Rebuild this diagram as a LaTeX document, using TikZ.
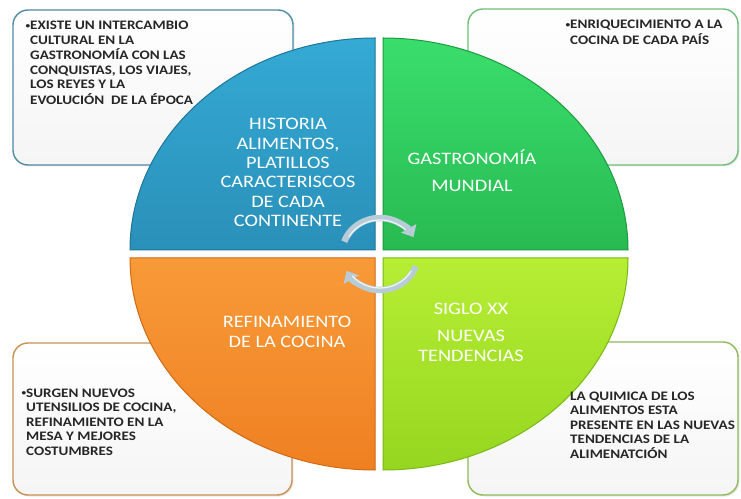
\documentclass[tikz,border=0pt]{standalone}
\usepackage{fontspec}
\setmainfont{Carlito}[FakeStretch=1.16]
\usetikzlibrary{arrows.meta,shadows}
\definecolor{qblueT}{HTML}{34AAD4}
\definecolor{qblueB}{HTML}{2A90B9}
\definecolor{qblueE}{HTML}{1F7598}
\definecolor{qgreenT}{HTML}{3ADE6C}
\definecolor{qgreenB}{HTML}{28BA52}
\definecolor{qgreenE}{HTML}{1E9A40}
\definecolor{qorangeT}{HTML}{F89A38}
\definecolor{qorangeB}{HTML}{EF8022}
\definecolor{qorangeE}{HTML}{D06A14}
\definecolor{qlimeT}{HTML}{B6EE34}
\definecolor{qlimeB}{HTML}{96D620}
\definecolor{qlimeE}{HTML}{7AB814}
\definecolor{bTL}{HTML}{4F8BA2}
\definecolor{bTR}{HTML}{6DBF79}
\definecolor{bBL}{HTML}{C99054}
\definecolor{bBR}{HTML}{8FBA55}
\definecolor{arrowc}{HTML}{B8CCD8}
\definecolor{txt}{HTML}{262626}
\tikzset{
  infobox/.style={line width=1.4pt, rounded corners=15pt, top color=white, bottom color=gray!8,
    drop shadow={opacity=0.18, shadow xshift=1.5pt, shadow yshift=-1.5pt}},
  quad/.style={line width=1pt},
  boxtext/.style={anchor=base west, inner sep=0pt, text=txt, font=\bfseries},
  centertext/.style={anchor=base, inner sep=0pt, text=white},
  cycarrow/.style={line width=6.5pt, draw=arrowc, -{Triangle[length=10pt,width=17pt]}},
}
\newcommand{\bodysize}{\fontsize{13}{14.5}\selectfont}
\newcommand{\labsize}{\fontsize{17.5}{19.3}\selectfont}
\newcommand{\bul}{\llap{\raisebox{0.25ex}{\fontsize{8}{8}\selectfont •}}}
\begin{document}
\begin{tikzpicture}[x=1pt,y=1pt]
\useasboundingbox (0,0) rectangle (741,498);
\fill[white] (0,0) rectangle (741,498);

% outer boxes
\draw[infobox, draw=bTL] (13,333) rectangle (293,488);
\draw[infobox, draw=bTR] (468,333) rectangle (738,489);
\draw[infobox, draw=bBL] (13,3) rectangle (292,155);
\draw[infobox, draw=bBR] (468,3) rectangle (738,156);

% quadrants
\draw[quad, draw=qblueE, top color=qblueT, bottom color=qblueB]
  (375,248) -- (375,460) arc[start angle=90, end angle=180, x radius=245, y radius=212] -- cycle;
\draw[quad, draw=qgreenE, top color=qgreenT, bottom color=qgreenB]
  (383,248) -- (628,248) arc[start angle=0, end angle=90, x radius=245, y radius=212] -- cycle;
\draw[quad, draw=qorangeE, top color=qorangeT, bottom color=qorangeB]
  (375,240) -- (130,240) arc[start angle=180, end angle=270, x radius=245, y radius=212] -- cycle;
\draw[quad, draw=qlimeE, top color=qlimeT, bottom color=qlimeB]
  (383,240) -- (383,28) arc[start angle=270, end angle=360, x radius=245, y radius=212] -- cycle;

% cycle arrows
\coordinate (c) at (380,244);
\draw[cycarrow] (c) ++(160:38 and 36) arc[start angle=160, end angle=28, x radius=38, y radius=36];
\draw[cycarrow] (c) ++(-20:38 and 36) arc[start angle=-20, end angle=-152, x radius=38, y radius=36];
\draw[white, line width=1.2pt, opacity=0.8] (c) ++(150:36 and 34) arc[start angle=150, end angle=45, x radius=36, y radius=34];
\draw[white, line width=1.2pt, opacity=0.8] (c) ++(-30:36 and 34) arc[start angle=-30, end angle=-140, x radius=36, y radius=34];

% centre labels
\node[centertext] (lblue) at (288,368) {\labsize\begin{tabular}[t]{@{}c@{}}HISTORIA\\ALIMENTOS,\\PLATILLOS\\CARACTERISCOS\\DE CADA\\CONTINENTE\end{tabular}};
\node[centertext] (lgreen) at (472,333) {\labsize\begin{tabular}[t]{@{}c@{}}GASTRONOMÍA\\[7.7pt]MUNDIAL\end{tabular}};
\node[centertext] (lorange) at (287,170) {\labsize\begin{tabular}[t]{@{}c@{}}REFINAMIENTO\\DE LA COCINA\end{tabular}};
\node[centertext] (llime) at (471,183) {\labsize\begin{tabular}[t]{@{}c@{}}SIGLO XX\\[7.7pt]NUEVAS\\TENDENCIAS\end{tabular}};

% box texts
\node[boxtext] (ttl) at (30,468) {\bodysize\begin{tabular}[t]{@{}l@{}}\bul EXISTE UN INTERCAMBIO\\CULTURAL EN LA\\GASTRONOMÍA CON LAS\\CONQUISTAS, LOS VIAJES,\\LOS REYES Y LA\\EVOLUCIÓN\ \ DE LA ÉPOCA\end{tabular}};
\node[boxtext] (ttr) at (570,469) {\bodysize\begin{tabular}[t]{@{}l@{}}\bul ENRIQUECIMIENTO A LA\\COCINA DE CADA PAÍS\end{tabular}};
\node[boxtext] (tbl) at (26,101) {\bodysize\begin{tabular}[t]{@{}l@{}}\bul SURGEN NUEVOS\\UTENSILIOS DE COCINA,\\REFINAMIENTO EN LA\\MESA Y MEJORES\\COSTUMBRES\end{tabular}};
\node[boxtext] (tbr) at (570,98) {\bodysize\begin{tabular}[t]{@{}l@{}}LA QUIMICA DE LOS\\ALIMENTOS ESTA\\PRESENTE EN LAS NUEVAS\\TENDENCIAS DE LA\\ALIMENATCIÓN\end{tabular}};
\end{tikzpicture}
\end{document}
